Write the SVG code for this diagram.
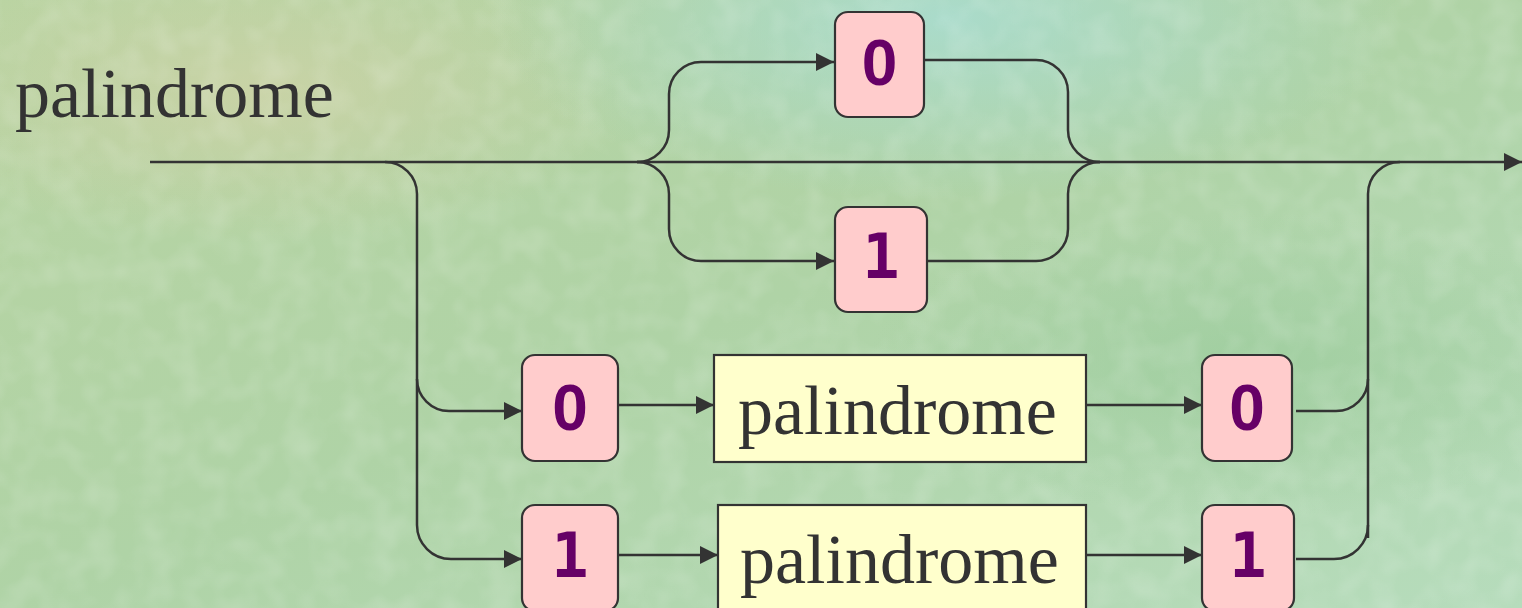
<svg xmlns="http://www.w3.org/2000/svg" width="1522" height="608" viewBox="0 0 1522 608">
<defs>
<linearGradient id="bg" x1="0" y1="0" x2="1" y2="1">
<stop offset="0" stop-color="#b9d4a2"/>
<stop offset="0.5" stop-color="#afd3a6"/>
<stop offset="1" stop-color="#b6dcbc"/>
</linearGradient>
<radialGradient id="teal" cx="0.62" cy="0.03" r="0.3">
<stop offset="0" stop-color="#a9dccf" stop-opacity="0.9"/>
<stop offset="1" stop-color="#a9dccf" stop-opacity="0"/>
</radialGradient>
<radialGradient id="tan" cx="0.17" cy="0.15" r="0.25">
<stop offset="0" stop-color="#cdd2a6" stop-opacity="0.8"/>
<stop offset="1" stop-color="#cdd2a6" stop-opacity="0"/>
</radialGradient>
<radialGradient id="green" cx="0.82" cy="0.6" r="0.25">
<stop offset="0" stop-color="#9ccc9c" stop-opacity="0.8"/>
<stop offset="1" stop-color="#9ccc9c" stop-opacity="0"/>
</radialGradient>
<filter id="tex" x="0" y="0" width="100%" height="100%">
<feTurbulence type="fractalNoise" baseFrequency="0.035" numOctaves="2" seed="4" result="n"/>
<feColorMatrix in="n" type="matrix" values="0 0 0 0 1  0 0 0 0 1  0 0 0 0 1  0 0 0 0.9 -0.35"/>
</filter>
<marker id="arr" markerUnits="userSpaceOnUse" markerWidth="20" markerHeight="20" refX="18" refY="10" orient="auto">
<path d="M0,1 L18,10 L0,19 Z" fill="#333333"/>
</marker>
<style>
.ln{fill:none;stroke:#333333;stroke-width:2.5}
.term{fill:#ffcccc;stroke:#333333;stroke-width:2.2}
.nt{fill:#ffffcc;stroke:#333333;stroke-width:2.2}
.dig{font-family:"DejaVu Sans Mono","Liberation Mono",monospace;font-weight:bold;font-size:62px;fill:#660066;text-anchor:middle}
.zero{font-family:"Liberation Sans",Arial,sans-serif;font-size:64px}
.word{font-family:"Liberation Serif","Times New Roman",serif;font-size:70px;fill:#333333}
</style>
</defs>
<rect width="1522" height="608" fill="url(#bg)"/>
<rect width="1522" height="608" fill="url(#tan)"/>
<rect width="1522" height="608" fill="url(#teal)"/>
<rect width="1522" height="608" fill="url(#green)"/>
<rect width="1522" height="608" filter="url(#tex)" opacity="0.35"/>

<text class="word" x="15" y="117">palindrome</text>

<g id="connectors">
<path class="ln" d="M150,162 H1522" marker-end="url(#arr)"/>
<path class="ln" d="M637,162 A32,32 0 0 0 669,130 V94 A32,32 0 0 1 701,62 H834" marker-end="url(#arr)"/>
<path class="ln" d="M924,60 H1036 A32,32 0 0 1 1068,92 V130 A32,32 0 0 0 1100,162"/>
<path class="ln" d="M637,162 A32,32 0 0 1 669,194 V229 A32,32 0 0 0 701,261 H834" marker-end="url(#arr)"/>
<path class="ln" d="M927,261 H1036 A32,32 0 0 0 1068,229 V194 A32,32 0 0 1 1100,162"/>
<path class="ln" d="M385,162 A32,32 0 0 1 417,194 V379 A32,32 0 0 0 449,411 H522" marker-end="url(#arr)"/>
<path class="ln" d="M417,379 V525 A34,34 0 0 0 451,559 H522" marker-end="url(#arr)"/>
<path class="ln" d="M618,405 H714" marker-end="url(#arr)"/>
<path class="ln" d="M618,555 H718" marker-end="url(#arr)"/>
<path class="ln" d="M1086,405 H1202" marker-end="url(#arr)"/>
<path class="ln" d="M1086,555 H1202" marker-end="url(#arr)"/>
<path class="ln" d="M1296,411 H1336 A32,32 0 0 0 1368,379 V194 A32,32 0 0 1 1400,162"/>
<path class="ln" d="M1296,559 H1334 A34,34 0 0 0 1368,525"/>
<path class="ln" d="M1368,379 V538"/>
</g>

<g id="top0"><rect class="term" x="835" y="12" width="89" height="105" rx="13"/><text class="dig zero" x="879.5" y="85">0</text></g>
<g id="top1"><rect class="term" x="835" y="207" width="92" height="105" rx="13"/><text class="dig" x="881" y="278">1</text></g>
<g id="left0"><rect class="term" x="522" y="355" width="96" height="106" rx="13"/><text class="dig zero" x="570" y="430">0</text></g>
<g id="left1"><rect class="term" x="522" y="505" width="96" height="106" rx="13"/><text class="dig" x="570" y="577">1</text></g>
<g id="pal0"><rect class="nt" x="714" y="355" width="372" height="107"/><text class="word" x="738" y="434">palindrome</text></g>
<g id="pal1"><rect class="nt" x="718" y="505" width="368" height="107"/><text class="word" x="740" y="583">palindrome</text></g>
<g id="right0"><rect class="term" x="1202" y="355" width="90" height="106" rx="13"/><text class="dig zero" x="1247" y="430">0</text></g>
<g id="right1"><rect class="term" x="1202" y="505" width="92" height="106" rx="13"/><text class="dig" x="1248" y="577">1</text></g>
</svg>
